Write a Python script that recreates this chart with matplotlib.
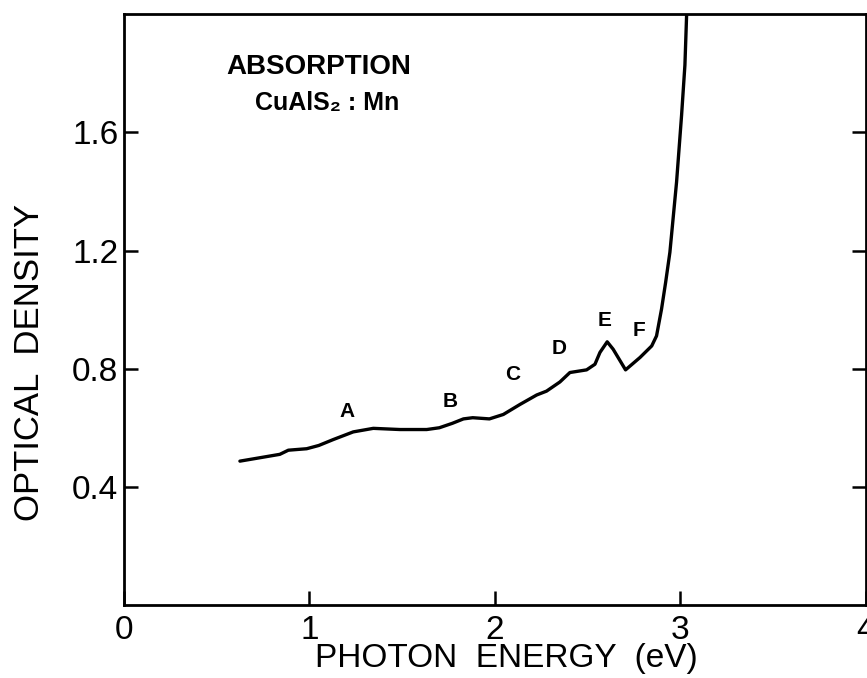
import matplotlib
matplotlib.use("Agg")
import matplotlib.pyplot as plt

# absorption spectrum
energy = [0.625, 0.70, 0.84, 0.886, 0.985, 1.05, 1.128, 1.236, 1.344, 1.488,
          1.632, 1.70, 1.77, 1.83, 1.88, 1.97, 2.045, 2.135, 2.225, 2.278,
          2.35, 2.404, 2.494, 2.539, 2.566, 2.605, 2.637, 2.704, 2.782, 2.845,
          2.871, 2.898, 2.92, 2.943, 2.979, 3.006, 3.024, 3.036]
density = [0.487, 0.495, 0.51, 0.524, 0.529, 0.54, 0.560, 0.586, 0.598, 0.594,
           0.594, 0.600, 0.615, 0.630, 0.634, 0.630, 0.645, 0.679, 0.711, 0.724,
           0.755, 0.787, 0.796, 0.815, 0.855, 0.891, 0.866, 0.796, 0.838, 0.877,
           0.911, 1.002, 1.092, 1.194, 1.432, 1.658, 1.828, 2.05]

# peak labels
peak_names = ["A", "B", "C", "D", "E", "F"]
peak_x = [1.20, 1.76, 2.094, 2.345, 2.59, 2.776]
peak_y = [0.656, 0.69, 0.781, 0.869, 0.962, 0.93]

xticks = [0, 1, 2, 3, 4]
yticks = [0.4, 0.8, 1.2, 1.6]
ytick_labels = ["0.4", "0.8", "1.2", "1.6"]

plt.rcParams['font.family'] = ['Liberation Sans', 'DejaVu Sans']

fig = plt.figure(figsize=(8.67, 6.78), dpi=100)
ax = fig.add_axes([0.143, 0.1077, 0.8558, 0.8713])

ax.plot(energy, density, color="k", lw=2.4, solid_capstyle="round")

for name, px, py in zip(peak_names, peak_x, peak_y):
    ax.text(px, py, name, fontsize=15, fontweight="bold", ha="center", va="center")

ax.text(0.55, 1.823, "ABSORPTION", fontsize=20, fontweight="bold",
        ha="left", va="center")
ax.text(0.706, 1.698, "CuAlS\u2082 : Mn", fontsize=18, fontweight="bold",
        ha="left", va="center")

ax.set_xlim(0, 4)
ax.set_ylim(0, 2.0)
ax.set_xticks(xticks)
ax.set_yticks(yticks)
ax.set_yticklabels(ytick_labels)
ax.tick_params(direction="in", length=10, width=1.8, labelsize=24,
               top=False, right=True)
ax.tick_params(axis="x", pad=7)
ax.tick_params(axis="y", pad=4)
for sp in ax.spines.values():
    sp.set_linewidth(2)

fig.text(506.5 / 867, 1 - 659 / 678, "PHOTON  ENERGY  (eV)", fontsize=24,
         ha="center", va="center")
fig.text(30 / 867, 1 - 362 / 678, "OPTICAL  DENSITY", fontsize=25,
         ha="center", va="center", rotation=90)

fig.savefig("out.png", dpi=100)
